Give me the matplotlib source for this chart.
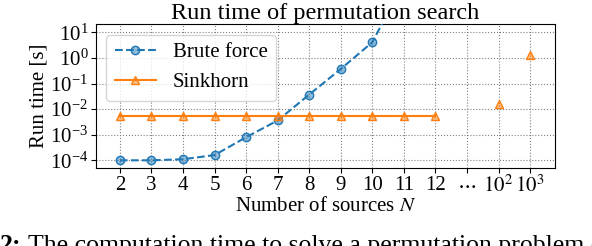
import numpy as np
import matplotlib
matplotlib.use("Agg")
import matplotlib.pyplot as plt

# data (x positions 2..12, then 10^2, 10^3 on a broken axis)
n_small = [2, 3, 4, 5, 6, 7, 8, 9, 10, 11]
brute_force = [1.0e-4, 1.0e-4, 1.1e-4, 1.6e-4, 8.0e-4, 3.6e-3, 3.7e-2, 3.7e-1, 4.1, 9.0e2]

n_sink = [2, 3, 4, 5, 6, 7, 8, 9, 10, 11, 12]
sinkhorn = [5.2e-3] * 11
n_big_pos = [14, 15]          # slots used for N = 10^2, 10^3
sinkhorn_big = [1.6e-2, 1.27]

tick_pos = list(range(2, 16))
tick_labels = [str(i) for i in range(2, 13)] + [r"$\cdots$", r"$10^2$", r"$10^3$"]

plt.rcParams["font.family"] = ["Liberation Serif", "DejaVu Serif"]
plt.rcParams["mathtext.fontset"] = "stix"

fig = plt.figure(figsize=(5.92, 2.46), dpi=100)
ax = fig.add_axes([0.162, 0.317, 0.776, 0.585])

c0 = "#1f77b4"
c1 = "#ff7f0e"

ax.plot(n_small, brute_force, "--o", color=c0, lw=1.5, ms=6,
        mfc=(0.12, 0.47, 0.71, 0.5), mec=c0, label="Brute force", zorder=3)
ax.plot(n_sink, sinkhorn, "-^", color=c1, lw=1.5, ms=6,
        mfc=(1.0, 0.5, 0.05, 0.5), mec=c1, label="Sinkhorn", zorder=3)
ax.plot(n_big_pos, sinkhorn_big, "^", color=c1, ms=6,
        mfc=(1.0, 0.5, 0.05, 0.5), mec=c1, zorder=3)

ax.set_yscale("log")
ax.set_ylim(5e-5, 2.1e1)
ax.set_xlim(1.24, 15.8)
ax.set_yticks([1e-4, 1e-3, 1e-2, 1e-1, 1e0, 1e1])
ax.minorticks_off()
ax.set_xticks(tick_pos)
ax.set_xticklabels(tick_labels)
ax.tick_params(labelsize=15, pad=2)
ax.grid(True, ls=":", color="gray", lw=0.8)

ax.set_xlabel(r"Number of sources $N$", fontsize=15, labelpad=0)
ax.set_ylabel("Run time [s]", fontsize=15, labelpad=1)
ax.set_title("Run time of permutation search", fontsize=17.5, pad=2)
ax.legend(loc="upper left", fontsize=15, handlelength=2.0)

# caption line of the surrounding document, cut off by the bottom edge
fig.text(0.0, -0.0224, "2:", fontsize=18.5, fontweight="bold", va="baseline")
fig.text(0.048, -0.0224, "The computation time to solve a permutation problem of",
         fontsize=18.5, va="baseline")

fig.savefig("out.png", dpi=100)
